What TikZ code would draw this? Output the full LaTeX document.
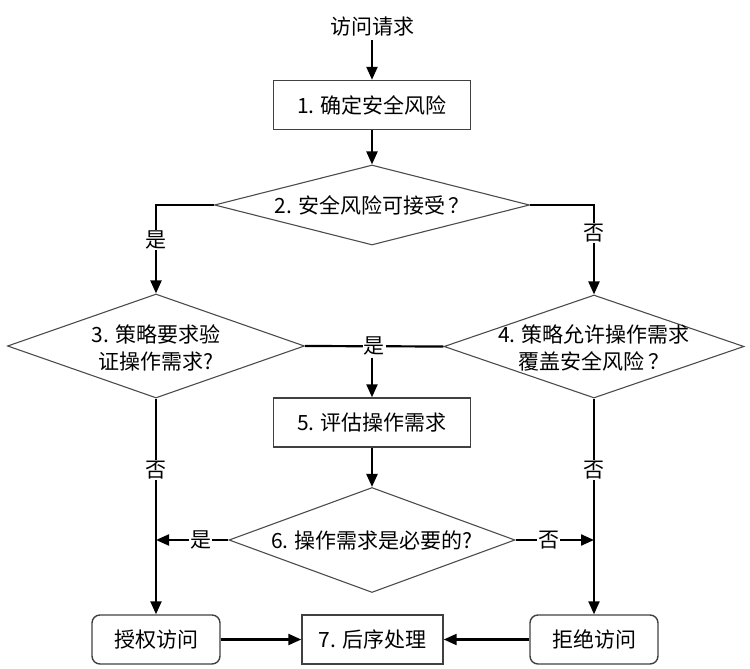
\documentclass[tikz,border=0pt]{standalone}
\usepackage{fontspec}
\setmainfont{Noto Sans CJK SC}
\usetikzlibrary{arrows.meta,shapes.geometric}
\begin{document}
\begin{tikzpicture}[x=1pt,y=-1pt,
  every node/.style={font=\fontsize{21}{27}\selectfont, text=black},
  conn/.style={draw=black, line width=2.2pt},
  arr/.style={conn,-{Triangle[length=13pt,width=11pt]}},
  procbox/.style={draw=black!75, line width=1.4pt, minimum width=197pt, minimum height=49pt, inner sep=0pt},
  endbox/.style={draw=black!75, line width=1.4pt, rounded corners=8pt, minimum width=128pt, minimum height=49pt, inner sep=0pt},
  dia/.style={draw=black!70, line width=1.1pt, diamond, inner sep=0pt},
  lbl/.style={fill=white, inner sep=1pt},
  dtext/.style={align=center, inner sep=0pt}
]
\useasboundingbox (0,0) rectangle (750,669);

\node (req) at (372,27) {访问请求};
\node[procbox] (s1) at (372,105) {1. 确定安全风险};
\node[dia, minimum width=315pt, minimum height=80pt] (d2) at (372,205) {};
\node[dtext] (t2) at (d2) {2. 安全风险可接受\,？};
\node[dia, minimum width=297pt, minimum height=104pt] (d3) at (156,346) {};
\node[dtext] (t3) at (156,348) {3. 策略要求验\\证操作需求?};
\node[dia, minimum width=300pt, minimum height=103pt] (d4) at (594,346.5) {};
\node[dtext] (t4) at (594,348) {4. 策略允许操作需求\\覆盖安全风险\,？};
\node[procbox] (s5) at (372,422.5) {5. 评估操作需求};
\node[dia, minimum width=286pt, minimum height=105pt] (d6) at (372,540) {};
\node[dtext] (t6) at (d6) {6. 操作需求是必要的?};
\node[endbox] (grant) at (156,639.5) {授权访问};
\node[procbox, minimum width=141pt] (s7) at (372.5,639.5) {7. 后序处理};
\node[endbox] (deny) at (594,639.5) {拒绝访问};

\draw[arr] (req) -- (s1);
\draw[arr] (s1) -- (d2);
\draw[arr] (d2.west) -| node[lbl, pos=0.697] (y2) {是} (d3.north);
\draw[arr] (d2.east) -| node[lbl, pos=0.657] (n2) {否} (d4.north);
\draw[conn] (d3.east) -- node[lbl, pos=0.5] (ym) {是} (d4.west);
\draw[arr] (ym.south -| s5.north) -- (s5.north);
\draw[arr] (s5) -- (d6);
\draw[arr] (d3.south) -- node[lbl, pos=0.33] (n3) {否} (grant.north);
\draw[arr] (d4.south) -- node[lbl, pos=0.33] (n4) {否} (deny.north);
\draw[arr] (d6.west) -- node[lbl, pos=0.38] (y6) {是} (d6.west -| grant.north);
\draw[arr] (d6.east) -- node[lbl, pos=0.42] (n6) {否} (d6.east -| deny.north);
\draw[arr] (grant) -- (s7);
\draw[arr] (deny) -- (s7);
\end{tikzpicture}
\end{document}
